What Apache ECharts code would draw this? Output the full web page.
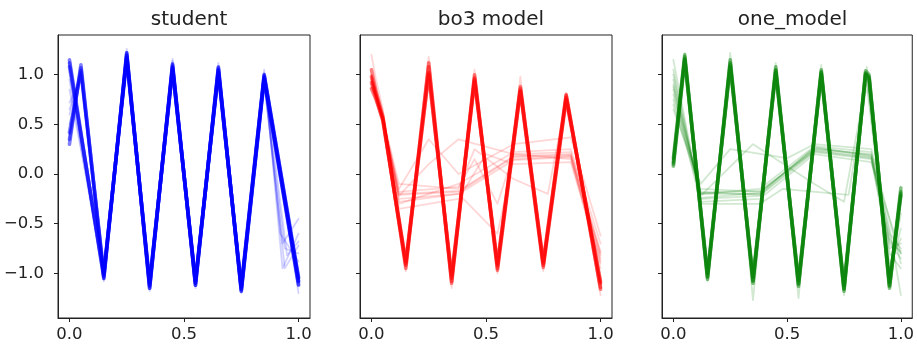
<!DOCTYPE html>
<html>
<head>
<meta charset="utf-8">
<script src="https://cdn.jsdelivr.net/npm/echarts@6/dist/echarts.min.js"></script>
<style>
  html, body { margin: 0; padding: 0; background: #fff; }
  #chart { width: 917px; height: 347px; }
</style>
</head>
<body>
<div id="chart"></div>
<script>
// panel titles and tick labels
const titles = ['student', 'bo3 model', 'one_model'];
const xTicks = [0, 0.5, 1.0];
const yTicks = [-1.0, -0.5, 0.0, 0.5, 1.0];

// student: main strands (two starting groups that merge at 0.15)
const studentCore = [
  [[0, 0.35], [0.05, 1.07], [0.15, -1.02], [0.25, 1.19], [0.35, -1.12], [0.45, 1.08], [0.55, -1.10], [0.65, 1.05], [0.75, -1.16], [0.85, 0.98], [1.0, -1.08]],
  [[0, 0.42], [0.05, 1.04], [0.15, -1.00], [0.25, 1.16], [0.35, -1.09], [0.45, 1.05], [0.55, -1.07], [0.65, 1.02], [0.75, -1.13], [0.85, 1.00], [1.0, -1.05]],
  [[0, 0.30], [0.05, 1.10], [0.15, -1.05], [0.25, 1.22], [0.35, -1.15], [0.45, 1.11], [0.55, -1.12], [0.65, 1.07], [0.75, -1.18], [0.85, 0.96], [1.0, -1.11]],
  [[0, 1.12], [0.15, -1.03], [0.25, 1.20], [0.35, -1.13], [0.45, 1.08], [0.55, -1.10], [0.65, 1.05], [0.75, -1.16], [0.85, 0.98], [1.0, -1.08]],
  [[0, 1.08], [0.15, -1.00], [0.25, 1.17], [0.35, -1.10], [0.45, 1.05], [0.55, -1.08], [0.65, 1.02], [0.75, -1.14], [0.85, 1.00], [1.0, -1.04]],
  [[0, 1.15], [0.15, -1.05], [0.25, 1.22], [0.35, -1.15], [0.45, 1.10], [0.55, -1.12], [0.65, 1.08], [0.75, -1.18], [0.85, 0.95], [1.0, -1.12]]
];
const studentFaint = [
  [[0, 0.60], [0.05, 1.00], [0.15, -0.98], [0.25, 1.10], [0.35, -1.08], [0.45, 1.00], [0.55, -1.05], [0.65, 0.98], [0.75, -1.10], [0.85, 0.92], [0.93, -0.70], [1.0, -0.45]],
  [[0, 0.85], [0.15, -0.95], [0.25, 1.05], [0.35, -1.05], [0.45, 1.14], [0.55, -1.15], [0.65, 0.95], [0.75, -1.20], [0.85, 1.05], [0.93, -0.95], [1.0, -0.60]],
  [[0, 0.50], [0.05, 1.02], [0.15, -1.08], [0.25, 1.26], [0.35, -1.18], [0.45, 1.16], [0.55, -1.02], [0.65, 1.12], [0.75, -1.08], [0.85, 0.90], [0.94, -0.75], [1.0, -0.80]],
  [[0, 0.72], [0.05, 0.95], [0.15, -0.95], [0.25, 1.15], [0.35, -1.10], [0.45, 1.05], [0.55, -1.08], [0.65, 1.00], [0.75, -1.12], [0.85, 1.02], [0.92, -0.60], [1.0, -0.88]],
  [[0, 0.95], [0.15, -1.07], [0.25, 1.12], [0.35, -1.14], [0.45, 1.02], [0.55, -1.13], [0.65, 1.04], [0.75, -1.15], [0.85, 0.97], [0.94, -0.95], [1.0, -0.72]],
  [[0, 0.40], [0.05, 1.06], [0.15, -1.02], [0.25, 1.18], [0.35, -1.12], [0.45, 1.07], [0.55, -1.09], [0.65, 1.04], [0.75, -1.16], [0.85, 0.99], [1.0, -1.20]],
  [[0, 0.65], [0.05, 1.03], [0.15, -1.04], [0.25, 1.14], [0.35, -1.11], [0.45, 1.09], [0.55, -1.11], [0.65, 1.06], [0.75, -1.14], [0.85, 0.97], [0.95, -0.82], [1.0, -0.68]]
];

// bo3 model
const bo3Core = [
  [[0, 0.98], [0.02, 0.80], [0.05, 0.56], [0.15, -0.92], [0.25, 1.02], [0.35, -1.05], [0.45, 0.97], [0.55, -0.95], [0.65, 0.86], [0.75, -0.92], [0.85, 0.77], [1.0, -1.10]],
  [[0, 0.92], [0.02, 0.77], [0.05, 0.53], [0.15, -0.90], [0.25, 1.08], [0.35, -1.08], [0.45, 0.95], [0.55, -0.92], [0.65, 0.88], [0.75, -0.90], [0.85, 0.79], [1.0, -1.14]],
  [[0, 1.05], [0.02, 0.83], [0.05, 0.58], [0.15, -0.95], [0.25, 1.12], [0.35, -1.10], [0.45, 1.00], [0.55, -0.97], [0.65, 0.83], [0.75, -0.94], [0.85, 0.75], [1.0, -1.08]],
  [[0, 0.86], [0.02, 0.75], [0.05, 0.55], [0.15, -0.88], [0.25, 1.00], [0.35, -1.02], [0.45, 0.93], [0.55, -0.90], [0.65, 0.84], [0.75, -0.88], [0.85, 0.80], [1.0, -1.16]]
];
const bo3Faint = [
  [[0, 1.20], [0.02, 0.95], [0.05, 0.65], [0.15, -0.98], [0.25, 1.18], [0.35, -1.15], [0.45, 1.05], [0.55, -1.00], [0.65, 0.98], [0.75, -0.98], [0.85, 0.82], [1.0, -1.22]],
  [[0, 0.95], [0.02, 0.78], [0.05, 0.55], [0.12, -0.20], [0.38, -0.17], [0.62, 0.18], [0.87, 0.20], [1.0, -0.78]],
  [[0, 0.90], [0.02, 0.76], [0.05, 0.54], [0.12, -0.25], [0.38, -0.20], [0.62, 0.14], [0.87, 0.17], [1.0, -0.85]],
  [[0, 1.00], [0.05, 0.57], [0.12, -0.30], [0.38, -0.10], [0.62, 0.22], [0.87, 0.25], [1.0, -0.70]],
  [[0, 0.97], [0.05, 0.56], [0.12, -0.15], [0.25, 0.35], [0.38, 0.00], [0.62, 0.30], [0.87, 0.37], [1.0, -0.62]],
  [[0, 0.93], [0.05, 0.55], [0.12, -0.35], [0.38, -0.25], [0.50, 0.20], [0.62, 0.10], [0.87, 0.12], [1.0, -0.90]],
  [[0, 0.96], [0.05, 0.56], [0.12, -0.10], [0.38, -0.15], [0.45, 0.25], [0.62, -0.05], [0.77, -0.20], [0.85, 0.75], [1.0, -1.10]],
  [[0, 0.94], [0.05, 0.55], [0.12, -0.22], [0.25, 0.10], [0.38, 0.35], [0.62, 0.20], [0.87, 0.22], [1.0, -0.80]],
  [[0, 0.99], [0.05, 0.57], [0.12, -0.28], [0.38, -0.20], [0.55, -0.60], [0.62, 0.15], [0.87, 0.18], [1.0, -0.95]],
  [[0, 0.91], [0.05, 0.54], [0.12, -0.18], [0.38, -0.13], [0.45, 0.15], [0.55, -0.30], [0.62, 0.20], [0.87, 0.15], [1.0, -0.88]],
  [[0, 0.97], [0.05, 0.56], [0.12, -0.21], [0.38, -0.18], [0.62, 0.17], [0.87, 0.19], [1.0, -0.82]]
];

// one_model
const oneCore = [
  [[0, 0.12], [0.05, 1.18], [0.15, -1.03], [0.25, 1.12], [0.35, -1.07], [0.45, 1.05], [0.55, -1.10], [0.65, 1.03], [0.75, -1.15], [0.845, 1.02], [0.86, 0.98], [0.95, -1.12], [1.0, -0.18]],
  [[0, 0.08], [0.05, 1.15], [0.15, -1.00], [0.25, 1.08], [0.35, -1.04], [0.45, 1.02], [0.55, -1.07], [0.65, 1.00], [0.75, -1.12], [0.845, 1.00], [0.86, 0.95], [0.95, -1.09], [1.0, -0.22]],
  [[0, 0.16], [0.05, 1.20], [0.15, -1.06], [0.25, 1.15], [0.35, -1.10], [0.45, 1.08], [0.55, -1.13], [0.65, 1.05], [0.75, -1.18], [0.845, 1.04], [0.86, 1.00], [0.95, -1.15], [1.0, -0.14]],
  [[0, 0.10], [0.05, 1.16], [0.15, -1.04], [0.25, 1.10], [0.35, -1.08], [0.45, 1.04], [0.55, -1.11], [0.65, 1.02], [0.75, -1.16], [0.845, 1.01], [0.86, 0.97], [0.95, -1.13], [1.0, -0.20]]
];
const oneFaint = [
  [[0, 0.90], [0.12, -0.20], [0.38, -0.20], [0.62, 0.27], [0.87, 0.18], [0.95, -0.70], [1.0, -0.85]],
  [[0, 0.80], [0.12, -0.15], [0.38, -0.18], [0.62, 0.25], [0.87, 0.20], [0.95, -0.60], [1.0, -0.75]],
  [[0, 1.00], [0.12, -0.25], [0.38, -0.22], [0.62, 0.22], [0.87, 0.15], [0.95, -0.80], [1.0, -0.95]],
  [[0, 0.70], [0.12, -0.20], [0.38, -0.15], [0.62, 0.28], [0.87, 0.22], [0.95, -0.55], [1.0, -1.22]],
  [[0, 1.15], [0.12, -0.28], [0.38, -0.25], [0.62, 0.20], [0.87, 0.12], [1.0, -0.80]],
  [[0, 0.65], [0.12, -0.10], [0.25, 0.25], [0.50, 0.16], [0.62, 0.30], [0.87, 0.25], [1.0, -0.90]],
  [[0, 0.85], [0.12, -0.30], [0.38, -0.30], [0.48, -0.15], [0.77, -0.21], [0.85, 0.90], [0.95, -1.00], [1.0, -0.55]],
  [[0, 0.95], [0.12, -0.22], [0.35, 0.30], [0.62, -0.10], [0.75, -0.28], [0.85, 0.95], [0.95, -0.90], [1.0, -0.65]],
  [[0, 0.75], [0.12, -0.18], [0.38, -0.21], [0.62, 0.24], [0.87, 0.17], [0.95, -0.75], [1.0, -0.70]],
  [[0, 1.05], [0.12, -0.24], [0.38, -0.19], [0.62, 0.26], [0.87, 0.19], [0.95, -0.65], [1.0, -0.80]],
  [[0, 0.88], [0.12, -0.19], [0.38, -0.17], [0.62, 0.23], [0.87, 0.16], [0.95, -0.68], [1.0, -0.78]],
  [[0, 0.12], [0.05, 1.22], [0.15, -1.08], [0.25, 1.22], [0.35, -1.27], [0.45, 1.12], [0.55, -1.25], [0.65, 1.10], [0.75, -1.22], [0.85, 1.08], [0.95, -1.05], [1.0, -0.40]]
];

const FONT = 'DejaVu Sans';
const INK = '#222';
const grids = [
  { left: 58, top: 35, width: 252, height: 283 },
  { left: 360, top: 35, width: 252, height: 283 },
  { left: 662, top: 35, width: 251, height: 283 }
];

const fmt = (v) => (v < 0 ? '\u2212' : '') + Math.abs(v).toFixed(1);

function strands(list, color, opacity, width, idx, z) {
  return list.map((d) => ({
    type: 'line',
    data: d,
    xAxisIndex: idx,
    yAxisIndex: idx,
    symbol: 'none',
    silent: true,
    z: z,
    lineStyle: { color, opacity, width, join: 'round', cap: 'round' }
  }));
}

const chart = echarts.init(document.getElementById('chart'), null, { renderer: 'canvas' });

chart.setOption({
  animation: false,
  backgroundColor: '#fff',
  title: grids.map((g, i) => ({
    text: titles[i],
    left: g.left + g.width / 2,
    top: 5,
    textAlign: 'center',
    textStyle: { fontFamily: FONT, fontSize: 20, fontWeight: 'normal', color: INK }
  })),
  grid: grids.map((g) => ({ ...g, show: true, borderColor: INK, borderWidth: 1, backgroundColor: 'transparent' })),
  xAxis: grids.map((g, i) => ({
    type: 'value',
    gridIndex: i,
    min: -0.05,
    max: 1.05,
    splitLine: { show: false },
    axisLine: { onZero: false, lineStyle: { color: INK, width: 1 } },
    axisTick: { customValues: xTicks, length: 4, lineStyle: { color: INK } },
    axisLabel: { customValues: xTicks, formatter: (v) => v.toFixed(1), margin: 8, fontFamily: FONT, fontSize: 16.5, color: INK }
  })),
  yAxis: grids.map((g, i) => ({
    type: 'value',
    gridIndex: i,
    min: -1.45,
    max: 1.40,
    splitLine: { show: false },
    axisLine: { onZero: false, lineStyle: { color: INK, width: 1 } },
    axisTick: { customValues: yTicks, length: 4, lineStyle: { color: INK } },
    axisLabel: { show: i === 0, customValues: yTicks, formatter: fmt, margin: 14, fontFamily: FONT, fontSize: 16.5, color: INK }
  })),
  series: [
    ...strands(studentFaint, '#0000ff', 0.18, 1.8, 0, 2),
    ...strands(studentCore, '#0000ff', 0.5, 3.6, 0, 3),
    ...strands(bo3Faint, '#ff0000', 0.16, 1.8, 1, 2),
    ...strands(bo3Core, '#ff0000', 0.5, 3.6, 1, 3),
    ...strands(oneFaint, '#008000', 0.18, 1.8, 2, 2),
    ...strands(oneCore, '#008000', 0.5, 3.6, 2, 3)
  ]
});
</script>
</body>
</html>
